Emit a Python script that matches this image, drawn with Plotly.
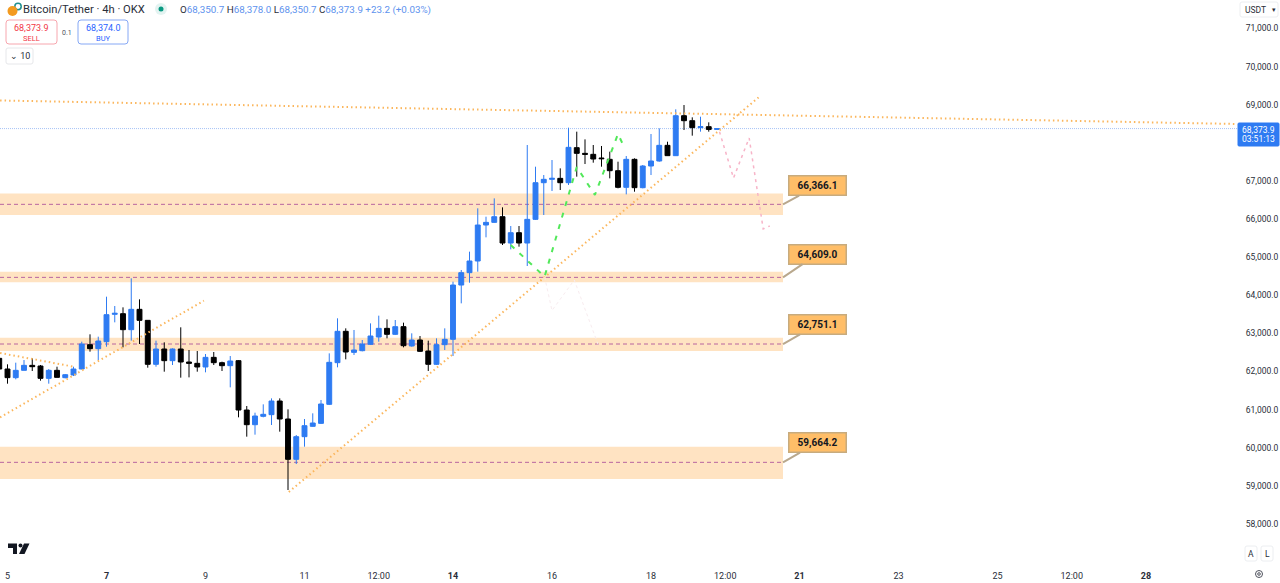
import plotly.graph_objects as go

# ---- data ----
candle_index = list(range(-1, 87))
opens = [62345,62065,61838,62030,62161,62144,61820,62030,61838,61908,62065,62704,62599,62782,63500,63517,63097,63631,63342,62188,62590,62284,62590,62249,62214,62118,62371,62231,62153,62284,60989,60604,60823,60867,61225,60753,59695,60290,60561,60639,61138,62231,63054,62502,62546,62712,62905,63132,62975,63176,62669,62826,62537,62188,62704,62844,64269,64593,64899,65843,65913,66062,65371,65642,65371,65992,66954,67042,67068,66954,67873,67724,67698,67602,67567,67269,66832,67567,66823,67392,67523,67934,67663,68712,68581,68398,68424,68350.7]
highs = [62433,62188,62231,62301,62345,62170,62065,62126,61934,62126,62782,62975,62914,63963,63718,63683,64444,63893,63342,62809,62765,62607,63159,62564,62537,62459,62511,62258,62406,62301,61094,60919,61138,61295,61295,61007,60333,60753,60902,61252,62476,63395,63132,63089,62826,63263,63465,63368,63351,63281,63001,62931,62809,62870,63132,64357,64663,65144,66281,66062,66543,66307,65817,65817,67943,67374,67155,67549,67330,68398,68293,68091,67943,67917,67768,67505,67654,67593,67418,68231,68380,68030,68879,68992,68669,68686,68538,68378.0]
lows = [61951,61680,61794,62030,62013,61759,61680,61846,61820,61881,62056,62520,62301,62651,63290,62634,62809,62721,62100,62126,61995,62170,61838,61846,61995,61978,62170,62013,61584,60797,60290,60342,60797,60596,60421,58890,59572,60027,60552,60622,61120,62109,62319,62433,62529,62695,62782,62870,62957,62634,62651,62511,62013,62170,62564,62406,63788,64330,64619,65520,65905,65319,65205,65275,64768,65975,66106,66736,66762,66893,67112,67444,67479,67374,67068,66806,66648,66718,66806,67155,67505,67663,67654,68336,68188,68293,68293,68350.7]
closes = [62065,61838,62030,62161,62126,61820,62030,61846,61916,62065,62721,62599,62800,63491,63526,63097,63631,63342,62188,62590,62284,62590,62249,62214,62118,62371,62231,62153,62275,60989,60604,60832,60876,61225,60753,59695,60290,60578,60648,61147,62240,63054,62511,62564,62721,62931,63132,62975,63176,62677,62826,62529,62188,62704,62844,64269,64593,64899,65843,65913,66062,65371,65642,65371,65992,66954,67042,67068,66954,67882,67724,67698,67575,67584,67269,66832,67567,66823,67392,67523,67934,67663,68712,68581,68398,68424,68350.7,68373.9]

tick_index = [0,12,24,36,45,54,66,78,87,96,108,120,129,138]
tick_labels = ["5","<b>7</b>","9","11","12:00","<b>14</b>","16","18","12:00","<b>21</b>","23","25","12:00","<b>28</b>"]
price_ticks = [58000,59000,60000,61000,62000,63000,64000,65000,66000,67000,69000,70000,71000]

zone_low  = [66106,64340,62538,59179]
zone_high = [66670,64620,62887,60027]
zone_mid  = [66386,64470,62721,59616]
zone_end  = 94
label_values = [66366.1,64609.0,62751.1,59664.2]

last_price = 68373.9

trend_x = [[-0.9,149],[34.1,91.1],[-0.9,23.8],[-0.9,8.2]]
trend_y = [[69111,68494],[58838,69203],[60798,63857],[62485,62118]]

green_x = [61,65.1,69,71.2,74,74.5]
green_y = [65319,64487,67366,66631,68232,68003]
pink_x = [86.3,88,89.9,91.6,92.4]
pink_y = [68292,67077,68127,65739,65818]
faint_x = [65.1,66,68.7,71.6]
faint_y = [64487,63600,64400,62700]

# ---- style ----
W, H = 1280, 583
PW, PH = 1237, 562
BLUE = "#2e7bf2"
FONT = "Roboto"
XR = [(0-7.5)/8.25, (PW-7.5)/8.25]
YR = [71000-(PH-28.5)*26.24, 71000+28.5*26.24]

def px(x): return x/PW
def py(y): return 1-y/PH

fig = go.Figure()

for lo, hi, mid in zip(zone_low, zone_high, zone_mid):
    fig.add_shape(type="rect", xref="paper", yref="y", x0=0, x1=px(783), y0=lo, y1=hi,
                  fillcolor="#ffe3c2", line_width=0, layer="below")
    fig.add_shape(type="line", xref="paper", yref="y", x0=0, x1=px(783), y0=mid, y1=mid,
                  line=dict(color="#b8649f", width=1, dash="4px,3px"), layer="below")

fig.add_shape(type="line", xref="paper", yref="y", x0=0, x1=1, y0=last_price, y1=last_price,
              line=dict(color="#a6c3f6", width=1, dash="1px,1px"), layer="below")

fig.add_trace(go.Candlestick(
    x=candle_index, open=opens, high=highs, low=lows, close=closes,
    increasing=dict(line=dict(color=BLUE, width=1), fillcolor=BLUE),
    decreasing=dict(line=dict(color="#000000", width=1), fillcolor="#000000"),
    whiskerwidth=0, showlegend=False))

for tx, ty in zip(trend_x, trend_y):
    fig.add_trace(go.Scatter(x=tx, y=ty, mode="lines", showlegend=False,
                             line=dict(color="#fbb65c", width=2, dash="1.5px,3px")))

fig.add_trace(go.Scatter(x=green_x, y=green_y, mode="lines", showlegend=False,
                         line=dict(color="#52e85a", width=2, dash="5px,7px")))
fig.add_trace(go.Scatter(x=pink_x, y=pink_y, mode="lines", showlegend=False,
                         line=dict(color="#f7b4c8", width=1.5, dash="3px,4px")))
fig.add_trace(go.Scatter(x=faint_x, y=faint_y, mode="lines", showlegend=False,
                         line=dict(color="#f8ecef", width=1, dash="3px,3px")))

def text(x, y, s, size=9, color="#131722", anchor="left", **kw):
    fig.add_annotation(xref="paper", yref="paper", x=px(x), y=py(y), text=s, showarrow=False,
                       xanchor=anchor, yanchor="middle", font=dict(family=FONT, size=size, color=color), **kw)

def rbox(x0, y0, x1, y1, r, line, fill="#ffffff", lw=1):
    X0, X1, Y0, Y1 = px(x0), px(x1), py(y0), py(y1)
    rx, ry = r/PW, r/PH
    path = (f"M {X0+rx} {Y0} L {X1-rx} {Y0} Q {X1} {Y0} {X1} {Y0-ry} L {X1} {Y1+ry} Q {X1} {Y1} {X1-rx} {Y1} "
            f"L {X0+rx} {Y1} Q {X0} {Y1} {X0} {Y1+ry} L {X0} {Y0-ry} Q {X0} {Y0} {X0+rx} {Y0} Z")
    fig.add_shape(type="path", xref="paper", yref="paper", path=path, fillcolor=fill,
                  line=dict(color=line, width=lw))

def circle(cx, cy, r, fill, line=None, lw=1):
    fig.add_shape(type="circle", xref="paper", yref="paper", x0=px(cx-r), x1=px(cx+r),
                  y0=py(cy+r), y1=py(cy-r), fillcolor=fill,
                  line=dict(color=line or fill, width=lw if line else 0))

# header
circle(18, 6.5, 3.2, "rgba(0,0,0,0)", "#1f8f8f", 1.5)
circle(12.5, 11, 5, "#f39a1f")
circle(161, 9, 6, "#e3f3f1")
circle(161, 9, 2.5, "#089981")
text(21, 9.5, "Bitcoin/Tether · 4h · OKX", size=11.2, color="#2a2e39")
v = lambda s: f'<span style="color:#5d92ee">{s}</span>'
text(178, 9.5, f'O{v("68,350.7")} H{v("68,378.0")} L{v("68,350.7")} C{v("68,373.9")} {v("+23.2 (+0.03%)")}',
     size=9.8, color="#2a2e39")
rbox(6, 20, 57, 44, 3, "#f7a6ae")
text(31.5, 28, "68,373.9", size=9, color="#f23645", anchor="center")
text(31.5, 38, "SELL", size=7.5, color="#f23645", anchor="center")
text(67, 33, "0.1", size=7, color="#50535e", anchor="center")
rbox(78, 20, 128, 44, 3, "#86a8f5")
text(103, 28, "68,374.0", size=9, color="#2962ff", anchor="center")
text(103, 38, "BUY", size=7.5, color="#2962ff", anchor="center")
rbox(6, 48, 33, 64, 2, "#e6e7ea")
text(20, 56, "⌄ 10", size=9, color="#2a2e39", anchor="center")

# right side
rbox(1240, 2, 1278, 17, 2, "#eceef1")
text(1243, 9.5, "USDT", size=8.5, color="#2a2e39")
text(1274, 9.5, "▾", size=7, color="#2a2e39", anchor="center")
rbox(1238, 123, 1279, 146, 1, BLUE, BLUE)
text(1258.5, 129.5, "68,373.9", size=8.5, color="#ffffff", anchor="center")
text(1258.5, 139.5, "03:51:13", size=8.5, color="#ffffff", anchor="center")
rbox(1245, 546, 1257, 561, 2, "#eceef1")
rbox(1261, 546, 1273, 561, 2, "#eceef1")
text(1251, 553.5, "A", size=8.5, color="#2a2e39", anchor="center")
text(1267, 553.5, "L", size=8.5, color="#2a2e39", anchor="center")
circle(1259, 574, 3.5, "#ffffff", "#50535e", 1)
circle(1259, 574, 1.3, "#ffffff", "#50535e", 1)

# TV logo
def poly(points, fill="#131722"):
    path = "M " + " L ".join(f"{px(a)} {py(b)}" for a, b in points) + " Z"
    fig.add_shape(type="path", xref="paper", yref="paper", path=path, fillcolor=fill, line_width=0)
poly([(8,543.5),(17,543.5),(17,554),(13,554),(13,548),(8,548)])
poly([(24,543.5),(29.5,543.5),(24.5,554),(19,554)])
circle(20.5, 545.5, 2, "#131722")

# callouts
tails = [(34,-18.5),(34,-23),(34,-19.5),(34,-19.5)]
for mid, val, (ax, ay) in zip(zone_mid, label_values, tails):
    fig.add_annotation(x=zone_end, y=mid, xref="x", yref="y", text=f"<b>{val:,.1f}</b>",
                       showarrow=True, arrowhead=0, arrowwidth=2, arrowcolor="#b9a88d",
                       ax=ax, ay=ay, standoff=0, bgcolor="#ffbe68", bordercolor="#c7ab7e",
                       borderwidth=1.5, borderpad=3, width=50, font=dict(family=FONT, size=10, color="#131722"))

fig.update_layout(
    width=W, height=H, margin=dict(l=0, r=W-PW, t=0, b=H-PH),
    paper_bgcolor="#ffffff", plot_bgcolor="#ffffff", showlegend=False,
    boxgroupgap=0.15,
    font=dict(family=FONT, size=9, color="#131722"),
    xaxis=dict(range=XR, rangeslider=dict(visible=False), showgrid=False, zeroline=False, showline=False,
               tickmode="array", tickvals=tick_index, ticktext=tick_labels,
               ticks="outside", ticklen=5, tickcolor="rgba(0,0,0,0)",
               tickfont=dict(family=FONT, size=9, color="#2a2e39")),
    yaxis=dict(range=YR, side="right", showgrid=False, zeroline=False, showline=False,
               ticks="outside", ticklen=6, tickcolor="rgba(0,0,0,0)",
               tickmode="array", tickvals=price_ticks, tickformat=",.1f",
               tickfont=dict(family=FONT, size=8.5, color="#2a2e39")),
)

fig.write_html("out.html", config={"displayModeBar": False},
               post_script="document.body.style.margin='0';document.body.style.overflow='hidden';")
